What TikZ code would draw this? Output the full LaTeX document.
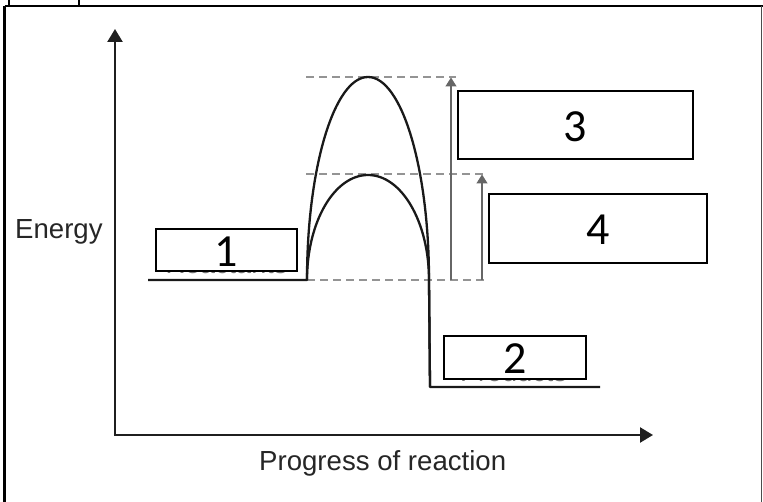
\documentclass[tikz,border=0pt]{standalone}
\usepackage{fontspec}
\setmainfont{Liberation Sans}
\newfontfamily\digitfont{Carlito}
\usetikzlibrary{arrows.meta}
\tikzset{
  axisline/.style={line width=2.4pt, draw=black!88, -{Triangle[width=15pt,length=13pt]}},
  curveline/.style={line width=2.3pt, draw=black!90},
  guide/.style={line width=2pt, draw=black!42, dash pattern=on 8pt off 5pt},
  gap/.style={line width=1.3pt, draw=black!60, -{Triangle[width=11pt,length=9pt]}},
  numbox/.style={draw=black, line width=2.5pt, fill=white, inner sep=0pt, text height=33pt, text depth=0pt, font=\digitfont\fontsize{46}{50}\selectfont},
  axislabel/.style={inner sep=0pt, text=black!85, font=\fontsize{27.6}{32}\selectfont},
  hidden/.style={inner sep=0pt, text=black!55, font=\fontsize{27}{32}\selectfont},
  frameline/.style={line width=2.6pt, draw=black}
}
\begin{document}
\begin{tikzpicture}[x=1pt,y=-1pt]
\useasboundingbox (0,0) rectangle (763,502);
% table frame
\coordinate (fTL) at (4.5,6);
\coordinate (fTR) at (763,6);
\coordinate (fBL) at (4.5,502);
\coordinate (cA) at (9,0);
\coordinate (cA2) at (9,6);
\coordinate (cB) at (79,0);
\coordinate (cB2) at (79,6);
\coordinate (rT) at (761.5,6);
\coordinate (rB) at (761.5,502);
\draw[frameline] (fTL) -- (fTR);
\draw[frameline] (fTL) -- (fBL);
\draw[line width=1.8pt] (cA) -- (cA2);
\draw[line width=1.8pt] (cB) -- (cB2);
\draw[line width=1.6pt, draw=black!70] (rT) -- (rB);
% axes
\coordinate (origin) at (115,435);
\coordinate (ytip) at (115,29);
\coordinate (xstart) at (113.8,435);
\coordinate (xtip) at (653,435);
\draw[axisline] (origin) -- (ytip);
\draw[axisline] (xstart) -- (xtip);
\node[axislabel, anchor=base west] (energy) at (15,239) {Energy};
\node[axislabel, anchor=base west] (progress) at (259,470) {Progress of reaction};
% guides
\coordinate (gTs) at (306,77);   \coordinate (gTe) at (456,77);
\coordinate (gMs) at (306,174);  \coordinate (gMe) at (486,174);
\coordinate (gBs) at (307,280);  \coordinate (gBe) at (486,280);
\draw[guide] (gTs) -- (gTe);
\draw[guide] (gMs) -- (gMe);
\draw[guide] (gBs) -- (gBe);
% gap arrows
\coordinate (a3s) at (451,280); \coordinate (a3e) at (451,77.5);
\coordinate (a4s) at (482,280); \coordinate (a4e) at (482,174.5);
\draw[gap] (a3s) -- (a3e);
\draw[gap] (a4s) -- (a4e);
% energy curves
\coordinate (rstart) at (148,280);
\coordinate (rend) at (307,280);
\coordinate (pdrop) at (430,387);
\coordinate (pend) at (600,387);
\draw[curveline, line join=round] (rstart) -- (rend)
   arc[start angle=180, end angle=360, x radius=61, y radius=203] -- (pdrop) -- (pend);
\draw[curveline, line join=round] (rend)
   arc[start angle=180, end angle=360, x radius=61, y radius=105] -- (pdrop);
% hidden labels beneath the boxes
\node[hidden, anchor=base] (react) at (226.5,274) {Reactants};
\node[hidden, anchor=base] (prod) at (513.5,382) {Products};
% numbered boxes
\node[numbox, minimum width=141pt, minimum height=42pt] (b1) at (226.5,250) {1};
\node[numbox, minimum width=142pt, minimum height=43pt] (b2) at (515,357.5) {2};
\node[numbox, minimum width=235pt, minimum height=68pt] (b3) at (575.5,125) {3};
\node[numbox, minimum width=218pt, minimum height=69pt] (b4) at (598,228.5) {4};
\end{tikzpicture}
\end{document}
